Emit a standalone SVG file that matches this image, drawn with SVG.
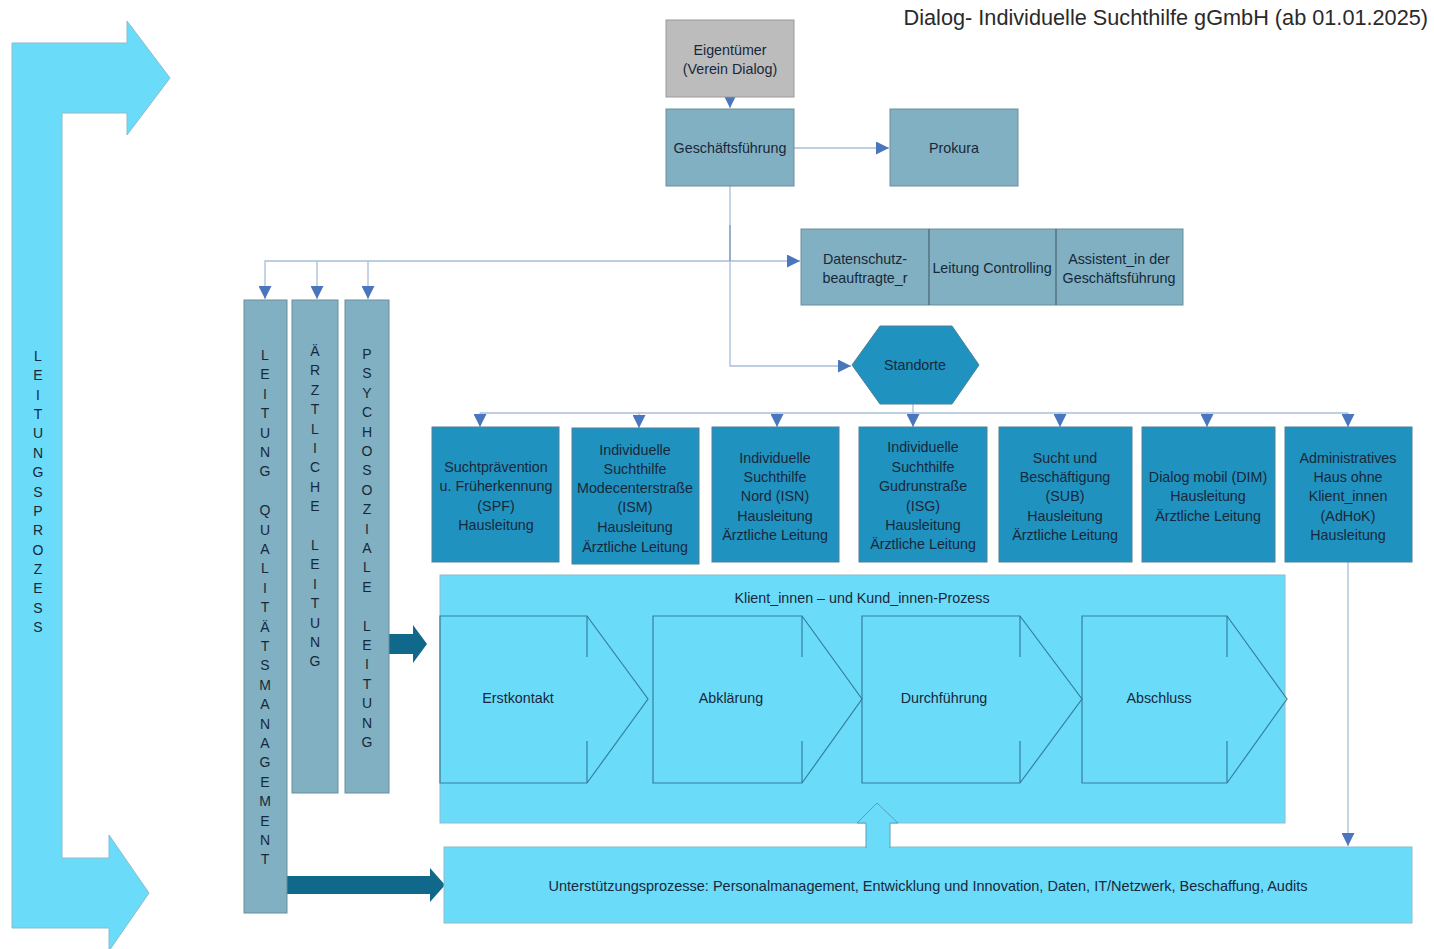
<svg xmlns="http://www.w3.org/2000/svg" width="1434" height="949" viewBox="0 0 1434 949">
<style>
text{font-family:"Liberation Sans",Arial,sans-serif;fill:#18283a;font-size:14.3px}
.c{text-anchor:middle;dominant-baseline:central}
.v{text-anchor:middle;font-size:14px}
.slate{fill:#80b0c1;stroke:#6d8e9a;stroke-width:1}
.dark{fill:#2092bf;stroke:#4f8098;stroke-width:1}
.gray{fill:#bcbcbc;stroke:#9a9a9a;stroke-width:1}
.cyan{fill:#6bdbfa;stroke:#8cbccc;stroke-width:1}
.chev{fill:none;stroke:#357f9e;stroke-width:1.2}
.conn{fill:none;stroke:#a8bfd8;stroke-width:1.3}
.teal{fill:#10688a;stroke:none}
</style>
<defs>
<marker id="ah" viewBox="0 0 10 10" refX="10" refY="5" markerUnits="userSpaceOnUse" markerWidth="13" markerHeight="13" orient="auto">
<path d="M0,0 L10,5 L0,10 Z" fill="#4a76bd"/>
</marker>
</defs>
<rect width="1434" height="949" fill="#ffffff"/>

<g id="title"><text x="1428" y="25" style="font-size:21.7px;text-anchor:end;fill:#2a2a2a">Dialog- Individuelle Suchthilfe gGmbH (ab 01.01.2025)</text></g>

<g id="leitungsprozess">
<path class="cyan" d="M12,43 L127,43 L127,21 L170,78 L127,135 L127,113 L62,113 L62,858 L109,858 L109,835 L149,893 L109,951 L109,928 L12,928 Z"/>
<text class="v" x="38" y="361"><tspan x="38">L</tspan><tspan x="38" dy="19.36">E</tspan><tspan x="38" dy="19.36">I</tspan><tspan x="38" dy="19.36">T</tspan><tspan x="38" dy="19.36">U</tspan><tspan x="38" dy="19.36">N</tspan><tspan x="38" dy="19.36">G</tspan><tspan x="38" dy="19.36">S</tspan><tspan x="38" dy="19.36">P</tspan><tspan x="38" dy="19.36">R</tspan><tspan x="38" dy="19.36">O</tspan><tspan x="38" dy="19.36">Z</tspan><tspan x="38" dy="19.36">E</tspan><tspan x="38" dy="19.36">S</tspan><tspan x="38" dy="19.36">S</tspan></text>
</g>

<g id="connectors">
<path class="conn" d="M730,97 V108" marker-end="url(#ah)"/>
<path class="conn" d="M794,148 H889" marker-end="url(#ah)"/>
<path class="conn" d="M730,186 V366 H851" marker-end="url(#ah)"/>
<path class="conn" d="M730,261 H800" marker-end="url(#ah)"/>
<path class="conn" d="M730,261 H265 V299" marker-end="url(#ah)"/>
<path class="conn" d="M317,261 V299" marker-end="url(#ah)"/>
<path class="conn" d="M368,261 V299" marker-end="url(#ah)"/>
<path d="M730,225 V261" stroke="#7f9bb8" stroke-width="1.3"/>
<path class="conn" d="M913,404 V413"/>
<path class="conn" d="M480,413 H1348"/>
<path class="conn" d="M480,413 V427" marker-end="url(#ah)"/>
<path class="conn" d="M639,413 V428" marker-end="url(#ah)"/>
<path class="conn" d="M777,413 V427" marker-end="url(#ah)"/>
<path class="conn" d="M913,413 V427" marker-end="url(#ah)"/>
<path class="conn" d="M1060,413 V427" marker-end="url(#ah)"/>
<path class="conn" d="M1207,413 V427" marker-end="url(#ah)"/>
<path class="conn" d="M1348,413 V427" marker-end="url(#ah)"/>
<path class="conn" d="M1348,562 V846" marker-end="url(#ah)"/>
<path class="teal" d="M387,634 H413 V625 L427,644 L413,663 V654 H387 Z"/>
<path class="teal" d="M287,876 H430 V868 L445,885 L430,902 V894 H287 Z"/>
</g>

<g id="eigentuemer">
<rect class="gray" x="666" y="20" width="128" height="77"/>
<text class="c" x="730" y="50">Eigentümer</text>
<text class="c" x="730" y="69">(Verein Dialog)</text>
</g>

<g id="geschaeftsfuehrung">
<rect class="slate" x="666" y="109" width="128" height="77"/>
<text class="c" x="730" y="148">Geschäftsführung</text>
</g>

<g id="prokura">
<rect class="slate" x="890" y="109" width="128" height="77"/>
<text class="c" x="954" y="148">Prokura</text>
</g>

<g id="stab">
<rect class="slate" x="801" y="229" width="382" height="76"/>
<line x1="929" y1="229" x2="929" y2="305" stroke="#3d5560" stroke-width="1"/>
<line x1="1056" y1="229" x2="1056" y2="305" stroke="#3d5560" stroke-width="1"/>
<text class="c" x="865" y="259">Datenschutz-</text>
<text class="c" x="865" y="278">beauftragte_r</text>
<text class="c" x="992" y="268">Leitung Controlling</text>
<text class="c" x="1119" y="259">Assistent_in der</text>
<text class="c" x="1119" y="278">Geschäftsführung</text>
</g>

<g id="standorte">
<polygon class="dark" points="852,365 880,326 952,326 979,365 952,404 880,404"/>
<text class="c" x="915" y="365">Standorte</text>
</g>

<g id="spf">
<rect class="dark" x="432" y="427" width="127" height="135"/>
<text class="c" x="496" y="467">Suchtprävention</text>
<text class="c" x="496" y="486">u. Früherkennung</text>
<text class="c" x="496" y="506">(SPF)</text>
<text class="c" x="496" y="525">Hausleitung</text>
</g>

<g id="ism">
<rect class="dark" x="572" y="428" width="127" height="136"/>
<text class="c" x="635" y="450">Individuelle</text>
<text class="c" x="635" y="469">Suchthilfe</text>
<text class="c" x="635" y="488">Modecenterstraße</text>
<text class="c" x="635" y="507">(ISM)</text>
<text class="c" x="635" y="527">Hausleitung</text>
<text class="c" x="635" y="547">Ärztliche Leitung</text>
</g>

<g id="isn">
<rect class="dark" x="712" y="427" width="127" height="135"/>
<text class="c" x="775" y="458">Individuelle</text>
<text class="c" x="775" y="477">Suchthilfe</text>
<text class="c" x="775" y="496">Nord (ISN)</text>
<text class="c" x="775" y="516">Hausleitung</text>
<text class="c" x="775" y="535">Ärztliche Leitung</text>
</g>

<g id="isg">
<rect class="dark" x="859" y="427" width="128" height="135"/>
<text class="c" x="923" y="447">Individuelle</text>
<text class="c" x="923" y="467">Suchthilfe</text>
<text class="c" x="923" y="486">Gudrunstraße</text>
<text class="c" x="923" y="506">(ISG)</text>
<text class="c" x="923" y="525">Hausleitung</text>
<text class="c" x="923" y="544">Ärztliche Leitung</text>
</g>

<g id="sub">
<rect class="dark" x="999" y="427" width="133" height="135"/>
<text class="c" x="1065" y="458">Sucht und</text>
<text class="c" x="1065" y="477">Beschäftigung</text>
<text class="c" x="1065" y="496">(SUB)</text>
<text class="c" x="1065" y="516">Hausleitung</text>
<text class="c" x="1065" y="535">Ärztliche Leitung</text>
</g>

<g id="dim">
<rect class="dark" x="1142" y="427" width="133" height="135"/>
<text class="c" x="1208" y="477">Dialog mobil (DIM)</text>
<text class="c" x="1208" y="496">Hausleitung</text>
<text class="c" x="1208" y="516">Ärztliche Leitung</text>
</g>

<g id="adhok">
<rect class="dark" x="1285" y="427" width="127" height="135"/>
<text class="c" x="1348" y="458">Administratives</text>
<text class="c" x="1348" y="477">Haus ohne</text>
<text class="c" x="1348" y="496">Klient_innen</text>
<text class="c" x="1348" y="516">(AdHoK)</text>
<text class="c" x="1348" y="535">Hausleitung</text>
</g>

<g id="qualitaet">
<rect class="slate" x="244" y="300" width="43" height="613"/>
<text class="v" x="265" y="360"><tspan x="265">L</tspan><tspan x="265" dy="19.4">E</tspan><tspan x="265" dy="19.4">I</tspan><tspan x="265" dy="19.4">T</tspan><tspan x="265" dy="19.4">U</tspan><tspan x="265" dy="19.4">N</tspan><tspan x="265" dy="19.4">G</tspan><tspan x="265" dy="38.8">Q</tspan><tspan x="265" dy="19.4">U</tspan><tspan x="265" dy="19.4">A</tspan><tspan x="265" dy="19.4">L</tspan><tspan x="265" dy="19.4">I</tspan><tspan x="265" dy="19.4">T</tspan><tspan x="265" dy="19.4">Ä</tspan><tspan x="265" dy="19.4">T</tspan><tspan x="265" dy="19.4">S</tspan><tspan x="265" dy="19.4">M</tspan><tspan x="265" dy="19.4">A</tspan><tspan x="265" dy="19.4">N</tspan><tspan x="265" dy="19.4">A</tspan><tspan x="265" dy="19.4">G</tspan><tspan x="265" dy="19.4">E</tspan><tspan x="265" dy="19.4">M</tspan><tspan x="265" dy="19.4">E</tspan><tspan x="265" dy="19.4">N</tspan><tspan x="265" dy="19.4">T</tspan></text>
</g>

<g id="aerztlich">
<rect class="slate" x="292" y="300" width="46" height="493"/>
<text class="v" x="315" y="356"><tspan x="315">Ä</tspan><tspan x="315" dy="19.4">R</tspan><tspan x="315" dy="19.4">Z</tspan><tspan x="315" dy="19.4">T</tspan><tspan x="315" dy="19.4">L</tspan><tspan x="315" dy="19.4">I</tspan><tspan x="315" dy="19.4">C</tspan><tspan x="315" dy="19.4">H</tspan><tspan x="315" dy="19.4">E</tspan><tspan x="315" dy="38.8">L</tspan><tspan x="315" dy="19.4">E</tspan><tspan x="315" dy="19.4">I</tspan><tspan x="315" dy="19.4">T</tspan><tspan x="315" dy="19.4">U</tspan><tspan x="315" dy="19.4">N</tspan><tspan x="315" dy="19.4">G</tspan></text>
</g>

<g id="psychosozial">
<rect class="slate" x="345" y="300" width="44" height="493"/>
<text class="v" x="367" y="359"><tspan x="367">P</tspan><tspan x="367" dy="19.4">S</tspan><tspan x="367" dy="19.4">Y</tspan><tspan x="367" dy="19.4">C</tspan><tspan x="367" dy="19.4">H</tspan><tspan x="367" dy="19.4">O</tspan><tspan x="367" dy="19.4">S</tspan><tspan x="367" dy="19.4">O</tspan><tspan x="367" dy="19.4">Z</tspan><tspan x="367" dy="19.4">I</tspan><tspan x="367" dy="19.4">A</tspan><tspan x="367" dy="19.4">L</tspan><tspan x="367" dy="19.4">E</tspan><tspan x="367" dy="38.8">L</tspan><tspan x="367" dy="19.4">E</tspan><tspan x="367" dy="19.4">I</tspan><tspan x="367" dy="19.4">T</tspan><tspan x="367" dy="19.4">U</tspan><tspan x="367" dy="19.4">N</tspan><tspan x="367" dy="19.4">G</tspan></text>
</g>

<g id="klientenprozess">
<rect class="cyan" x="440" y="575" width="845" height="248"/>
<text class="c" x="862" y="598">Klient_innen – und Kund_innen-Prozess</text>
</g>

<g id="erstkontakt">
<path class="chev" d="M440,616 H587 L648,699 L587,783 H440 Z M587,616 V657 M587,741 V783"/>
<text class="c" x="518" y="698">Erstkontakt</text>
</g>
<g id="abklaerung">
<path class="chev" d="M653,616 H802 L862,699 L802,783 H653 Z M802,616 V657 M802,741 V783"/>
<text class="c" x="731" y="698">Abklärung</text>
</g>
<g id="durchfuehrung">
<path class="chev" d="M862,616 H1020 L1082,699 L1020,783 H862 Z M1020,616 V657 M1020,741 V783"/>
<text class="c" x="944" y="698">Durchführung</text>
</g>
<g id="abschluss">
<path class="chev" d="M1082,616 H1227 L1287,699 L1227,783 H1082 Z M1227,616 V657 M1227,741 V783"/>
<text class="c" x="1159" y="698">Abschluss</text>
</g>

<g id="unterstuetzung">
<rect class="cyan" x="444" y="847" width="968" height="76"/>
<text class="c" x="928" y="886" style="font-size:14.5px">Unterstützungsprozesse: Personalmanagement, Entwicklung und Innovation, Daten, IT/Netzwerk, Beschaffung, Audits</text>
<path d="M866,848 V823 H857 L877,803 L898,823 H890 V848" fill="#6bdbfa" stroke="#5a9fb6" stroke-width="1"/>
</g>
</svg>
